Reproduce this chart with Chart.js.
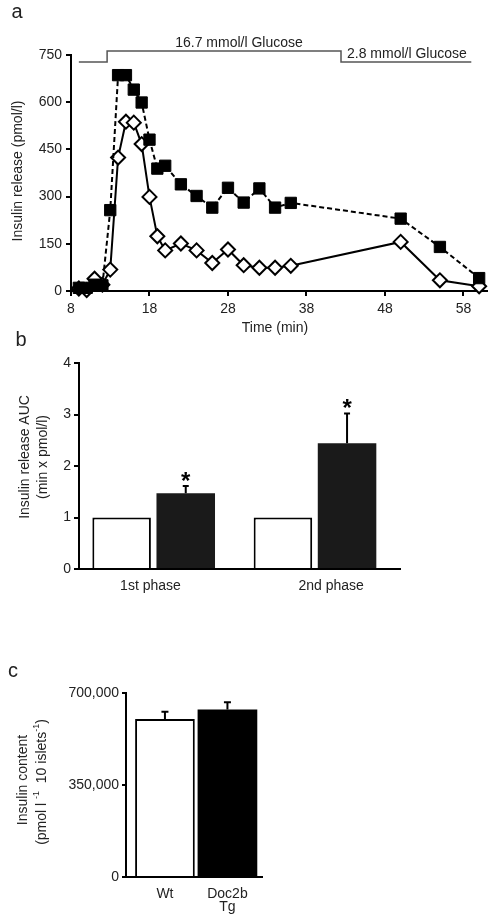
<!DOCTYPE html>
<html>
<head>
<meta charset="utf-8">
<script src="https://cdn.jsdelivr.net/npm/chart.js@4.4.1/dist/chart.umd.min.js"></script>
<style>
  body { margin: 0; background: #fff; }
  .panel { position: absolute; left: 0; width: 496px; }
  #panelA { top: 0; height: 340px; }
  #panelB { top: 325px; height: 300px; }
  #panelC { top: 625px; height: 298px; }
</style>
</head>
<body>
<div class="panel" id="panelA"><canvas id="chartA"></canvas></div>
<div class="panel" id="panelB"><canvas id="chartB"></canvas></div>
<div class="panel" id="panelC"><canvas id="chartC"></canvas></div>
<script>
const FONT = '"Liberation Sans", Arial, sans-serif';
const INK = '#222';

// a: insulin release during perifusion
const times = [9, 10, 11, 12, 13, 14, 15, 16, 17, 18, 19, 20, 22, 24, 26, 28, 30, 32, 34, 36, 50, 55, 60];
const tgRelease = [10, 10, 20, 18, 257, 686, 686, 640, 599, 481, 389, 398, 339, 302, 265, 328, 281, 326, 265, 280, 230, 140, 41];
const wtRelease = [8, 3, 39, 20, 68, 424, 538, 535, 467, 299, 174, 129, 151, 129, 89, 132, 82, 74, 74, 80, 156, 34, 15];
const timeTicks = [8, 18, 28, 38, 48, 58];
const releaseTicks = [0, 150, 300, 450, 600, 750];
const glucoseSwitch = [9, 12.6, 42.4, 59]; // start, 16.7 on, back to 2.8, end

// b: AUC per phase
const phaseLabels = ['1st phase', '2nd phase'];
const phaseX = [1, 2];
const aucWt = [1, 1];
const aucTg = [1.47, 2.44];
const aucTgErr = [0.14, 0.58];

// c: insulin content
const contentLabels = ['Wt', ['Doc2b', 'Tg']];
const contentX = [1, 2];
const contentValues = [601000, 637000];
const contentErr = [28000, 28000];
const contentTicks = [0, 350000, 700000];

const axisGrid = { drawOnChartArea: false, color: '#000', lineWidth: 2, tickLength: 5 };
const axisBorder = { color: '#000', width: 2 };
const tickFont = { family: FONT, size: 14 };

function rotText(ctx, text, x, y) {
    ctx.save();
    ctx.translate(x, y);
    ctx.rotate(-Math.PI / 2);
    ctx.textAlign = 'center';
    ctx.textBaseline = 'middle';
    ctx.fillText(text, 0, 0);
    ctx.restore();
}

// upper error bars only (SEM drawn above the bar)
function drawErrors(chart, dsIndex, errs, cap) {
    const { ctx, scales: { y } } = chart;
    const meta = chart.getDatasetMeta(dsIndex);
    const vals = chart.data.datasets[dsIndex].data;
    ctx.save();
    ctx.strokeStyle = '#000';
    ctx.lineWidth = 2;
    meta.data.forEach((bar, i) => {
        if (!errs[i]) return;
        const top = y.getPixelForValue(vals[i].y + errs[i]);
        const base = y.getPixelForValue(vals[i].y);
        ctx.beginPath();
        ctx.moveTo(bar.x, base);
        ctx.lineTo(bar.x, top);
        ctx.moveTo(bar.x - cap / 2, top);
        ctx.lineTo(bar.x + cap / 2, top);
        ctx.stroke();
    });
    ctx.restore();
}

// ---- a ----
new Chart(document.getElementById('chartA'), {
    type: 'line',
    data: {
        datasets: [
            {
                data: times.map((t, i) => ({ x: t, y: tgRelease[i] })),
                borderColor: '#000',
                borderWidth: 2,
                borderDash: [5, 3],
                pointStyle: 'rect',
                pointRadius: 8,
                pointBackgroundColor: '#000',
                pointBorderColor: '#000',
                pointBorderWidth: 1,
                clip: false
            },
            {
                data: times.map((t, i) => ({ x: t, y: wtRelease[i] })),
                borderColor: '#000',
                borderWidth: 2,
                pointStyle: 'rectRot',
                pointRadius: 7,
                pointBackgroundColor: '#fff',
                pointBorderColor: '#000',
                pointBorderWidth: 2,
                clip: false
            }
        ]
    },
    options: {
        responsive: true,
        maintainAspectRatio: false,
        animation: false,
        layout: { padding: { left: 0, top: 55, right: 8, bottom: 10 } },
        plugins: { legend: { display: false }, tooltip: { enabled: false } },
        scales: {
            x: {
                type: 'linear', min: 8, max: 61,
                afterBuildTicks: s => { s.ticks = timeTicks.map(v => ({ value: v })); },
                afterFit: s => { s.height = 39; },
                grid: axisGrid, border: axisBorder,
                ticks: { color: INK, font: tickFont, padding: 5, maxRotation: 0, autoSkip: false }
            },
            y: {
                min: 0, max: 750,
                afterBuildTicks: s => { s.ticks = releaseTicks.map(v => ({ value: v })); },
                afterFit: s => { s.width = 71; },
                grid: axisGrid, border: axisBorder,
                ticks: { color: INK, font: tickFont, padding: 4 }
            }
        }
    },
    plugins: [{
        id: 'panelAText',
        afterDraw(chart) {
            const { ctx, scales: { x } } = chart;
            const [x0, x1, x2, x3] = glucoseSwitch.map(v => x.getPixelForValue(v));
            ctx.save();
            ctx.strokeStyle = '#555';
            ctx.lineWidth = 1.5;
            ctx.beginPath();
            ctx.moveTo(x0, 62); ctx.lineTo(x1, 62); ctx.lineTo(x1, 51);
            ctx.lineTo(x2, 51); ctx.lineTo(x2, 62); ctx.lineTo(x3, 62);
            ctx.stroke();
            ctx.fillStyle = INK;
            ctx.font = '14px ' + FONT;
            ctx.textBaseline = 'middle';
            ctx.textAlign = 'center';
            ctx.fillText('16.7 mmol/l Glucose', 239, 43);
            ctx.fillText('Time (min)', 275, 328);
            ctx.textAlign = 'left';
            ctx.fillText('2.8 mmol/l Glucose', 347, 54);
            rotText(ctx, 'Insulin release (pmol/l)', 18, 171);
            ctx.font = '20px ' + FONT;
            ctx.textAlign = 'center';
            ctx.fillText('a', 17, 12);
            ctx.restore();
        }
    }]
});

// ---- b ----
new Chart(document.getElementById('chartB'), {
    type: 'bar',
    data: {
        datasets: [
            {
                data: phaseX.map((x, i) => ({ x, y: aucWt[i] })),
                backgroundColor: '#fff', borderColor: '#000', borderWidth: 2
            },
            {
                data: phaseX.map((x, i) => ({ x, y: aucTg[i] })),
                backgroundColor: '#1a1a1a', borderWidth: 0
            }
        ]
    },
    options: {
        responsive: true,
        maintainAspectRatio: false,
        animation: false,
        categoryPercentage: 0.795,
        barPercentage: 0.913,
        layout: { padding: { left: 0, top: 38, right: 96, bottom: 16 } },
        plugins: { legend: { display: false }, tooltip: { enabled: false } },
        scales: {
            x: {
                type: 'linear', min: 0.537, max: 2.527, offset: false,
                afterBuildTicks: s => { s.ticks = [0.98, 2.1].map(v => ({ value: v })); },
                afterFit: s => { s.height = 40; },
                grid: { display: false, drawTicks: false }, border: axisBorder,
                ticks: { color: INK, font: tickFont, padding: 9, maxRotation: 0, autoSkip: false,
                    callback: (v, i) => phaseLabels[i] }
            },
            y: {
                min: 0, max: 4,
                ticks: { stepSize: 1, color: INK, font: tickFont, padding: 3 },
                afterFit: s => { s.width = 79; },
                grid: axisGrid, border: axisBorder
            }
        }
    },
    plugins: [{
        id: 'panelBText',
        afterDatasetsDraw(chart) {
            drawErrors(chart, 1, aucTgErr, 6);
            const { ctx, scales: { y } } = chart;
            const meta = chart.getDatasetMeta(1);
            ctx.save();
            ctx.fillStyle = '#000';
            ctx.font = 'bold 24px ' + FONT;
            ctx.textAlign = 'center';
            ctx.textBaseline = 'alphabetic';
            meta.data.forEach((bar, i) => {
                const capY = y.getPixelForValue(aucTg[i] + aucTgErr[i]);
                ctx.fillText('*', bar.x, capY - 11 + 13.7);
            });
            ctx.restore();
        },
        afterDraw(chart) {
            const { ctx } = chart;
            ctx.save();
            ctx.fillStyle = INK;
            ctx.font = '14px ' + FONT;
            rotText(ctx, 'Insulin release AUC', 25, 132);
            rotText(ctx, '(min x pmol/l)', 43, 132);
            ctx.font = '20px ' + FONT;
            ctx.textAlign = 'center';
            ctx.textBaseline = 'middle';
            ctx.fillText('b', 21, 15);
            ctx.restore();
        }
    }]
});

// ---- c ----
new Chart(document.getElementById('chartC'), {
    type: 'bar',
    data: {
        datasets: [{
            data: contentX.map((x, i) => ({ x, y: contentValues[i] })),
            backgroundColor: ['#fff', '#000'],
            borderColor: '#000',
            borderWidth: [2, 0]
        }]
    },
    options: {
        responsive: true,
        maintainAspectRatio: false,
        animation: false,
        categoryPercentage: 1,
        barPercentage: 0.955,
        layout: { padding: { left: 0, top: 68, right: 234, bottom: 6 } },
        plugins: { legend: { display: false }, tooltip: { enabled: false } },
        scales: {
            x: {
                type: 'linear', min: 0.377, max: 2.553, offset: false,
                afterBuildTicks: s => { s.ticks = contentX.map(v => ({ value: v })); },
                afterFit: s => { s.height = 40; },
                grid: { display: false, drawTicks: false }, border: axisBorder,
                ticks: { color: INK, font: { family: FONT, size: 14, lineHeight: 0.96 }, padding: 10,
                    maxRotation: 0, autoSkip: false, callback: (v, i) => contentLabels[i] }
            },
            y: {
                min: 0, max: 700000,
                afterBuildTicks: s => { s.ticks = contentTicks.map(v => ({ value: v })); },
                afterFit: s => { s.width = 126; },
                grid: { drawOnChartArea: false, color: '#000', lineWidth: 2, tickLength: 4 },
                border: axisBorder,
                ticks: { color: INK, font: tickFont, padding: 3, callback: v => v.toLocaleString('en-US') }
            }
        }
    },
    plugins: [{
        id: 'panelCText',
        afterDatasetsDraw(chart) {
            drawErrors(chart, 0, contentErr, 7);
        },
        afterDraw(chart) {
            const { ctx } = chart;
            ctx.save();
            ctx.fillStyle = INK;
            ctx.font = '14px ' + FONT;
            rotText(ctx, 'Insulin content', 23, 155);
            // second line with superscripts
            const parts = [['(pmol l ', false], ['-1', true], ['  10 islets', false], ['-1', true], [')', false]];
            const big = '14px ' + FONT, small = '9px ' + FONT;
            let total = 0;
            parts.forEach(p => { ctx.font = p[1] ? small : big; total += ctx.measureText(p[0]).width; });
            ctx.translate(42, 157);
            ctx.rotate(-Math.PI / 2);
            ctx.textAlign = 'left';
            ctx.textBaseline = 'middle';
            let cx = -total / 2;
            parts.forEach(p => {
                ctx.font = p[1] ? small : big;
                ctx.fillText(p[0], cx, p[1] ? -5 : 0);
                cx += ctx.measureText(p[0]).width;
            });
            ctx.setTransform(1, 0, 0, 1, 0, 0);
            ctx.font = '20px ' + FONT;
            ctx.textAlign = 'center';
            ctx.fillText('c', 13, 46);
            ctx.restore();
        }
    }]
});
</script>
</body>
</html>
